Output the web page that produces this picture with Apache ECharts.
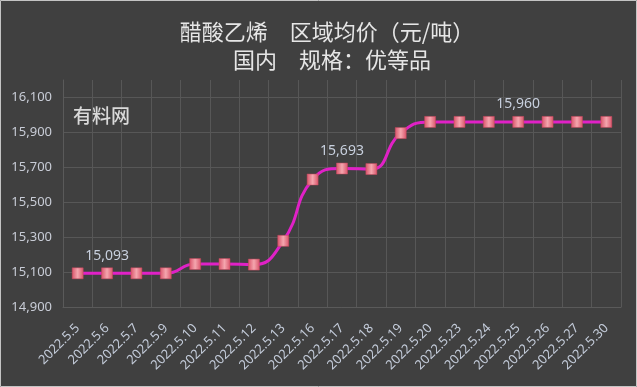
<!DOCTYPE html>
<html>
<head>
<meta charset="utf-8">
<script src="https://cdn.jsdelivr.net/npm/echarts@6/dist/echarts.min.js"></script>
<style>
html,body{margin:0;padding:0;background:#404040;}
#c{width:637px;height:387px;}
</style>
</head>
<body>
<div id="c"></div>
<script>
const categories = ['2022.5.5','2022.5.6','2022.5.7','2022.5.9','2022.5.10','2022.5.11','2022.5.12','2022.5.13','2022.5.16','2022.5.17','2022.5.18','2022.5.19','2022.5.20','2022.5.23','2022.5.24','2022.5.25','2022.5.26','2022.5.27','2022.5.30'];
const prices = [15093,15093,15093,15093,15146,15146,15143,15279,15630,15693,15690,15896,15960,15960,15960,15960,15960,15960,15960];
const labeledIndices = [1, 9, 15];
const titleLine1 = '醋酸乙烯　区域均价（元/吨）';
const titleLine2 = '国内　规格：优等品';
const watermark = '有料网';
const yMin = 14900, yMax = 16200, yStep = 100;

const chart = echarts.init(document.getElementById('c'), null, {renderer:'canvas'});
const markerFill = new echarts.graphic.LinearGradient(0,0,1,0,[
  {offset:0,color:'#d9536a'},{offset:0.5,color:'#f4a6ae'},{offset:1,color:'#d9536a'}]);
const fmt = v => v.toLocaleString('en-US');
const titleStyle = {color:'#e6e6e6', fontSize:22, fontWeight:'normal', fontFamily:'Noto Sans CJK SC'};

chart.setOption({
  backgroundColor:'#404040',
  animation:false,
  title:[
    {text: titleLine1, left:327, top:21, textAlign:'center', padding:0, textStyle:titleStyle},
    {text: titleLine2, left:332, top:49, textAlign:'center', padding:0, textStyle:titleStyle}
  ],
  graphic:[
    {type:'rect', shape:{x:0.5,y:0.5,width:636,height:386}, style:{fill:'none',stroke:'#c4c4c4',lineWidth:1}, z:100},
    {type:'text', left:73, top:106, style:{text:watermark, fill:'#d9d9d9', font:'500 19px "Noto Sans CJK SC"'}, z:50}
  ],
  grid:{left:63, right:16, top:80, bottom:80},
  xAxis:{
    type:'category', data:categories, boundaryGap:true,
    axisLine:{show:true, lineStyle:{color:'#5a5a5a'}},
    axisTick:{show:false},
    splitLine:{show:true, lineStyle:{color:'#575757', width:1}},
    axisLabel:{rotate:45, color:'#c3cbd9', fontSize:13, fontFamily:'Noto Sans', margin:19, interval:0}
  },
  yAxis:{
    type:'value', min:yMin, max:yMax, interval:yStep,
    axisLine:{show:true, lineStyle:{color:'#5a5a5a'}},
    axisTick:{show:false},
    splitLine:{show:true, lineStyle:{color:['#575757','rgba(0,0,0,0)'], width:1}},
    axisLabel:{color:'#c8ccd6', fontSize:13, fontFamily:'Noto Sans', margin:11,
      formatter: v => ((v - yMin) / yStep) % 2 === 0 && v < yMax ? fmt(v) : ''}
  },
  series:[{
    type:'line', data: prices.map((v,i)=>({value:v, label:{show: labeledIndices.includes(i)}})),
    smooth:0.5,
    symbol:'rect', symbolSize:11,
    lineStyle:{color:'#e021c6', width:3},
    itemStyle:{color:markerFill, borderColor:'#c9495e', borderWidth:0.5},
    label:{show:false, position:'top', distance:5, color:'#c8d0de', fontSize:14, fontFamily:'Noto Sans', formatter: p => fmt(p.value)}
  }]
});
</script>
</body>
</html>
